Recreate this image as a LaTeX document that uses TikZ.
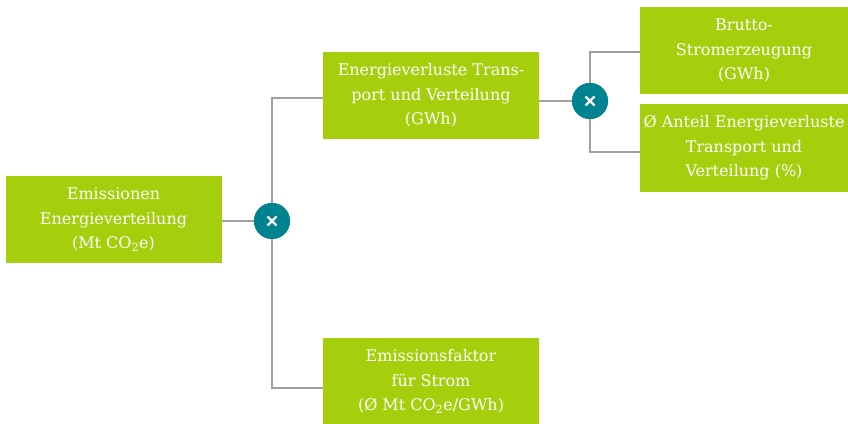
\documentclass[tikz,border=0pt]{standalone}
\usepackage{fontspec}
\setmainfont{DejaVu Serif}
\definecolor{boxgreen}{RGB}{165,207,12}
\definecolor{opteal}{RGB}{0,131,145}
\definecolor{linegray}{RGB}{160,160,160}
\tikzset{
  kpibox/.style={fill=boxgreen, text=white, align=center, inner sep=0pt,
    minimum width=216pt, minimum height=87pt,
    font=\fontsize{16}{24.5}\selectfont},
  opcircle/.style={circle, fill=opteal, minimum size=36pt, inner sep=0pt},
  conn/.style={draw=linegray, line width=1.5pt},
  crossline/.style={draw=white, line width=2.2pt}
}
\begin{document}
\begin{tikzpicture}[x=1pt,y=-1pt]
\useasboundingbox (0,0) rectangle (848,423);
\node[kpibox] (b1) at (113.5,219.5) {Emissionen\\Energieverteilung\\(Mt CO\textsubscript{2}e)};
\node[kpibox] (b2) at (431,95.5) {Energieverluste Trans-\\port und Verteilung\\(GWh)};
\node[kpibox] (b3) at (431,381.5) {Emissionsfaktor\\für Strom\\(Ø Mt CO\textsubscript{2}e/GWh)};
\node[kpibox, minimum width=208pt] (b4) at (744,50.5) {Brutto-\\Stromerzeugung\\(GWh)};
\node[kpibox, minimum width=208pt, minimum height=88pt] (b5) at (744,148) {Ø Anteil Energieverluste\\Transport und\\Verteilung (\%)};
\node[opcircle] (c1) at (272,221) {};
\node[opcircle] (c2) at (590,101) {};
\coordinate (j2) at (323,98);
\coordinate (j3) at (323,388);
\coordinate (j4) at (640,52);
\coordinate (j5) at (640,152);
\draw[conn] (b1.east |- c1) -- (c1);
\draw[conn] (c1) |- (j2);
\draw[conn] (c1) |- (j3);
\draw[conn] (b2.east |- c2) -- (c2);
\draw[conn] (c2) |- (j4);
\draw[conn] (c2) |- (j5);
\node[opcircle] at (c1) {};
\node[opcircle] at (c2) {};
\foreach \c in {c1,c2}{
  \draw[crossline] ([shift={(-4.5,-4.5)}]\c.center) -- ([shift={(4.5,4.5)}]\c.center);
  \draw[crossline] ([shift={(-4.5,4.5)}]\c.center) -- ([shift={(4.5,-4.5)}]\c.center);
}
\end{tikzpicture}
\end{document}
